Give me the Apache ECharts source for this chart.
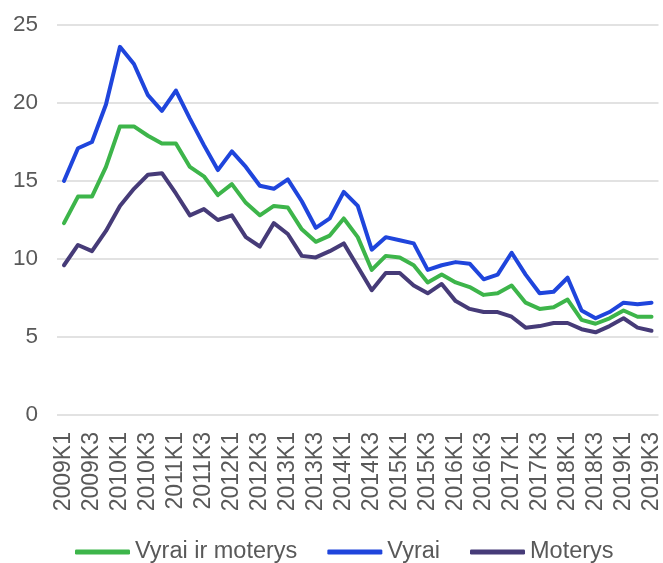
<!DOCTYPE html>
<html>
<head>
<meta charset="utf-8">
<script src="https://cdn.jsdelivr.net/npm/echarts@6/dist/echarts.min.js"></script>
<style>
  html, body { margin: 0; padding: 0; background: #fff; }
  #chart { width: 663px; height: 563px; }
</style>
</head>
<body>
<div id="chart"></div>
<script>
// ketvirčiai 2009K1 - 2019K3
var quarters = [];
for (var y = 2009; y <= 2019; y++) {
    for (var q = 1; q <= 4; q++) {
        if (y == 2019 && q == 4) break;
        quarters.push(y + 'K' + q);
    }
}

var seriesNames = ['Vyrai ir moterys', 'Vyrai', 'Moterys'];

var bothValues = [12.3, 14.0, 14.0, 15.9, 18.5, 18.5, 17.9, 17.4, 17.4, 15.9, 15.3, 14.1, 14.8, 13.6, 12.8, 13.4, 13.3, 11.9, 11.1, 11.5, 12.6, 11.4, 9.3, 10.2, 10.1, 9.6, 8.5, 9.0, 8.5, 8.2, 7.7, 7.8, 8.3, 7.2, 6.8, 6.9, 7.4, 6.1, 5.85, 6.2, 6.7, 6.3, 6.3];
var menValues = [15.0, 17.1, 17.5, 19.9, 23.6, 22.5, 20.5, 19.5, 20.8, 19.0, 17.3, 15.7, 16.9, 15.9, 14.7, 14.5, 15.1, 13.7, 12.0, 12.6, 14.3, 13.4, 10.6, 11.4, 11.2, 11.0, 9.3, 9.6, 9.8, 9.7, 8.7, 9.0, 10.4, 9.0, 7.8, 7.9, 8.8, 6.7, 6.2, 6.6, 7.2, 7.1, 7.2];
var womenValues = [9.6, 10.9, 10.5, 11.8, 13.4, 14.5, 15.4, 15.5, 14.2, 12.8, 13.2, 12.5, 12.8, 11.4, 10.8, 12.3, 11.6, 10.2, 10.1, 10.5, 11.0, 9.5, 8.0, 9.1, 9.1, 8.3, 7.8, 8.4, 7.3, 6.8, 6.6, 6.6, 6.3, 5.6, 5.7, 5.9, 5.9, 5.5, 5.3, 5.7, 6.2, 5.6, 5.4];

var colors = ['#3db54a', '#1f45dc', '#463b78'];
var allValues = [bothValues, menValues, womenValues];

var chart = echarts.init(document.getElementById('chart'));

var series = seriesNames.map(function (name, i) {
    return {
        name: name,
        type: 'line',
        data: allValues[i],
        symbol: 'none',
        lineStyle: { width: 4, color: colors[i], join: 'round', cap: 'round' },
        itemStyle: { color: colors[i] }
    };
});

chart.setOption({
    animation: false,
    textStyle: { fontFamily: 'Liberation Sans, Arial, sans-serif' },
    grid: { left: 57, right: 3, top: 25, bottom: 148 },
    legend: {
        data: seriesNames,
        left: 70,
        bottom: -6,
        icon: 'roundRect',
        itemWidth: 55,
        itemHeight: 5,
        itemGap: 30,
        textStyle: { fontSize: 23.5, color: '#595959' }
    },
    xAxis: {
        type: 'category',
        data: quarters,
        axisLine: { show: false },
        axisTick: { show: false },
        axisLabel: {
            interval: 1,
            rotate: 90,
            margin: 17,
            fontSize: 23,
            color: '#595959'
        }
    },
    yAxis: {
        type: 'value',
        min: 0,
        max: 25,
        interval: 5,
        axisLine: { show: false },
        axisTick: { show: false },
        axisLabel: { fontSize: 22.5, color: '#595959', margin: 19 },
        splitLine: { lineStyle: { color: '#d9d9d9', width: 1.5 } }
    },
    series: series
});
</script>
</body>
</html>
